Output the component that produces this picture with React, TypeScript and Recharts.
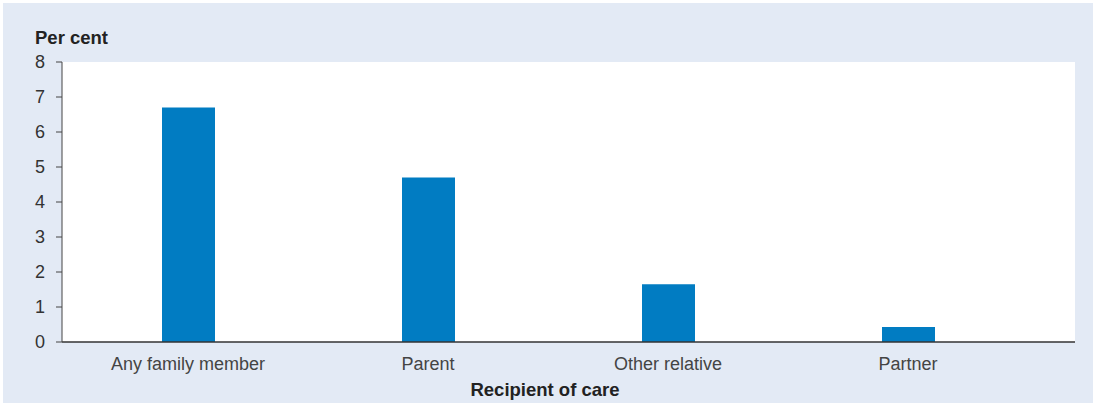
import React from 'react';
import { BarChart, Bar, XAxis, YAxis, CartesianGrid } from 'recharts';

const categories = ['Any family member', 'Parent', 'Other relative', 'Partner'];
const shares = [6.7, 4.7, 1.65, 0.43];
const yTicks = [0, 1, 2, 3, 4, 5, 6, 7, 8];

const data = categories.map((name, i) => ({ name, value: shares[i] }));

const font = '"Liberation Sans", Arial, Helvetica, sans-serif';

export default function App() {
  return (
    <div style={{ position: 'absolute', left: 0, top: 0, width: 1096, height: 405, background: '#fff' }}>
      <div style={{ position: 'absolute', left: 3, top: 3, width: 1090, height: 400, background: '#e3eaf5' }} />
      <div style={{ position: 'absolute', left: 0, top: 0 }}>
        <BarChart
          width={1096}
          height={405}
          data={data}
          margin={{ top: 62, right: 21, bottom: 33, left: 0 }}
        >
          <CartesianGrid fill="#ffffff" stroke="none" horizontal={false} vertical={false} />
          <XAxis
            dataKey="name"
            padding={{ left: 6, right: 47 }}
            height={30}
            tickLine={false}
            tickMargin={9}
            axisLine={{ stroke: '#333', strokeWidth: 1.5 }}
            tick={{ fill: '#444', fontSize: 18, fontFamily: font }}
            interval={0}
          />
          <YAxis
            width={62}
            domain={[0, 8]}
            ticks={yTicks}
            interval={0}
            tickSize={6}
            tickMargin={11}
            axisLine={{ stroke: '#444', strokeWidth: 1 }}
            tickLine={{ stroke: '#444', strokeWidth: 1 }}
            tick={{ fill: '#333', fontSize: 18, fontFamily: font }}
          />
          <Bar dataKey="value" fill="#017cc2" barSize={53} isAnimationActive={false} />
        </BarChart>
      </div>
      <div style={{ position: 'absolute', left: 35, top: 27, fontFamily: font, fontWeight: 'bold', fontSize: 18.5, color: '#222' }}>
        Per cent
      </div>
      <div style={{ position: 'absolute', left: 0, width: 1090, top: 379, textAlign: 'center', fontFamily: font, fontWeight: 'bold', fontSize: 18.5, color: '#222' }}>
        Recipient of care
      </div>
    </div>
  );
}
